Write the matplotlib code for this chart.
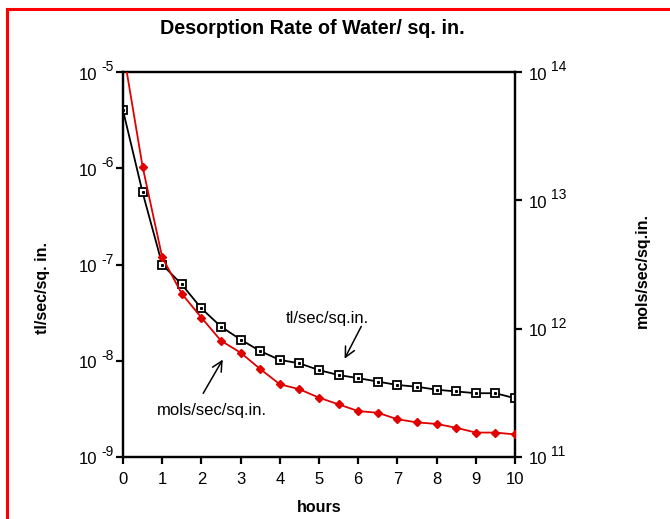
import numpy as np
import matplotlib
matplotlib.use("Agg")
import matplotlib.pyplot as plt
from matplotlib.ticker import FixedLocator, NullFormatter, NullLocator

plt.rcParams['font.family'] = ['Liberation Sans', 'DejaVu Sans']

# data
hours = [0, 0.5, 1, 1.5, 2, 2.5, 3, 3.5, 4, 4.5, 5,
         5.5, 6, 6.5, 7, 7.5, 8, 8.5, 9, 9.5, 10]
torr_rate = [4.0e-6, 5.6e-7, 1.0e-7, 6.2e-8, 3.5e-8, 2.26e-8, 1.66e-8, 1.26e-8,
             1.02e-8, 9.4e-9, 8.0e-9, 7.1e-9, 6.6e-9, 6.07e-9, 5.6e-9, 5.37e-9,
             5.0e-9, 4.8e-9, 4.6e-9, 4.6e-9, 4.08e-9]
mol_rate = [1.5e14, 1.83e13, 3.6e12, 1.87e12, 1.22e12, 8.05e11, 6.5e11, 4.85e11,
            3.69e11, 3.37e11, 2.9e11, 2.57e11, 2.28e11, 2.21e11, 1.97e11, 1.86e11,
            1.81e11, 1.69e11, 1.55e11, 1.55e11, 1.50e11]
x_ticks = list(range(0, 11))
left_exp = [-9, -8, -7, -6, -5]
right_exp = [11, 12, 13, 14]

fig = plt.figure(figsize=(6.7, 5.19), dpi=100)
ax = fig.add_axes([123 / 670, 62 / 519, 392 / 670, 385 / 519])
ax2 = ax.twinx()

# black series, left axis
ax.plot(hours, torr_rate, color='black', lw=1.3, marker='s', ms=5.5,
        mfc='white', mec='black', mew=1.3, zorder=3)
ax.plot(hours, torr_rate, ls='none', marker='s', ms=1.2, color='black', zorder=4)
ax.set_yscale('log')
ax.set_ylim(1e-9, 1e-5)
ax.set_xlim(0, 10)

# red series, right axis
ax2.plot(hours, mol_rate, color='#e00000', lw=1.3, marker='D', ms=4.5,
         mfc='#e00000', mec='#e00000', zorder=3)
ax2.set_yscale('log')
ax2.set_ylim(1e11, 1e14)

for a in (ax, ax2):
    for s in a.spines.values():
        s.set_linewidth(1.6)
    a.tick_params(which='major', length=5, width=1.6, labelsize=12,
                  direction='out', pad=3)
    a.yaxis.set_minor_locator(NullLocator())
    a.yaxis.set_major_formatter(NullFormatter())
    a.yaxis.set_minor_formatter(NullFormatter())

ax.xaxis.set_major_locator(FixedLocator(x_ticks))
ax.yaxis.set_major_locator(FixedLocator([10.0 ** e for e in left_exp]))
ax2.yaxis.set_major_locator(FixedLocator([10.0 ** e for e in right_exp]))
ax.tick_params(axis='x', pad=6)

# "10" with raised exponent, like the original
px = 0.72  # points per pixel at 100 dpi
for e in left_exp:
    ax.annotate('10', xy=(0, 10.0 ** e), xycoords=ax.get_yaxis_transform(),
                xytext=(-26 * px, -3 * px), textcoords='offset points',
                ha='right', va='center', fontsize=12)
    ax.annotate('%d' % e, xy=(0, 10.0 ** e), xycoords=ax.get_yaxis_transform(),
                xytext=(-22 * px, 5 * px), textcoords='offset points',
                ha='left', va='center', fontsize=10)
for e in right_exp:
    ax2.annotate('10', xy=(1, 10.0 ** e), xycoords=ax2.get_yaxis_transform(),
                 xytext=(14 * px, -3 * px), textcoords='offset points',
                 ha='left', va='center', fontsize=12)
    ax2.annotate('%d' % e, xy=(1, 10.0 ** e), xycoords=ax2.get_yaxis_transform(),
                 xytext=(36 * px, 5 * px), textcoords='offset points',
                 ha='left', va='center', fontsize=10)

ax.set_xlabel('hours', fontsize=11.5, fontweight='bold', labelpad=9)
fig.text(42 / 670, 1 - 288 / 519, 'tl/sec/sq. in.', rotation=90,
         ha='center', va='center', fontsize=11.5, fontweight='bold')
fig.text(642 / 670, 1 - 270 / 519, 'mols/sec/sq.in.', rotation=90,
         ha='center', va='center', fontsize=11.5, fontweight='bold')

fig.text(312 / 670, 1 - 28 / 519, 'Desorption Rate of Water/ sq. in.',
         ha='center', va='center', fontsize=14.2, fontweight='bold')

# annotations with arrows
ax.annotate('', xy=(5.62, 9.9e-9), xytext=(6.11, 2.41e-8),
            arrowprops=dict(arrowstyle='->', color='black', lw=1.1,
                            mutation_scale=18))
ax.text(5.20, 2.78e-8, 'tl/sec/sq.in.', ha='center', va='center', fontsize=12)
ax.annotate('', xy=(2.58, 1.09e-8), xytext=(2.01, 4.33e-9),
            arrowprops=dict(arrowstyle='->', color='black', lw=1.1,
                            mutation_scale=18))
ax.text(2.26, 3.07e-9, 'mols/sec/sq.in.', ha='center', va='center', fontsize=12)

# red frame on left and top edge
fig.add_artist(plt.Line2D([7 / 670, 7 / 670], [0, 1 - 9 / 519],
                          transform=fig.transFigure, color='#ff0000', lw=2.2))
fig.add_artist(plt.Line2D([7 / 670, 1], [1 - 9 / 519, 1 - 9 / 519],
                          transform=fig.transFigure, color='#ff0000', lw=2.2))

fig.savefig('out.png', dpi=100)
